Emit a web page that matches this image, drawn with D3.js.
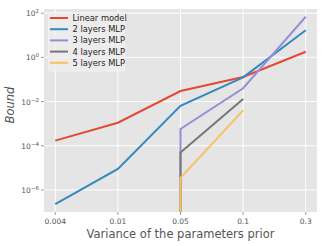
<!DOCTYPE html>
<html>
<head>
<meta charset="utf-8">
<script src="https://cdn.jsdelivr.net/npm/d3@7"></script>
<style>
  body { margin: 0; background: #fff; }
  text { font-family: "DejaVu Sans", sans-serif; }
</style>
</head>
<body>
<svg id="chart" width="326" height="246"></svg>
<script>
var categories = ["0.004", "0.01", "0.05", "0.1", "0.3"];
var seriesNames = ["Linear model", "2 layers MLP", "3 layers MLP", "4 layers MLP", "5 layers MLP"];
// 0 means no bound (drops off the log axis)
var linearModel = [1.7e-4, 1.1e-3, 3.0e-2, 0.13, 1.8];
var mlp2 = [2.3e-7, 9.0e-6, 6.4e-3, 0.125, 17];
var mlp3 = [0, 0, 5.7e-4, 4.0e-2, 69];
var mlp4 = [0, 0, 5.0e-5, 1.3e-2, null];
var mlp5 = [0, 0, 3.5e-6, 4.0e-3, null];
var yTicks = [1e-6, 1e-4, 1e-2, 1e0, 1e2];
var yTickExp = ["\u22126", "\u22124", "\u22122", "0", "2"];

var colors = ["#E24A33", "#348ABD", "#988ED5", "#777777", "#FBC15E"];
var allSeries = [linearModel, mlp2, mlp3, mlp4, mlp5];

var svg = d3.select("#chart");
var pLeft = 44, pRight = 317, pTop = 9, pBottom = 212;

var x = d3.scalePoint().domain(categories).range([pLeft, pRight]).padding(0.18);
var y = d3.scaleLog().domain([1.0e-7, Math.pow(10, 2.19)]).range([pBottom, pTop]);

svg.append("rect").attr("x", pLeft).attr("y", pTop)
   .attr("width", pRight - pLeft).attr("height", pBottom - pTop)
   .style("fill", "#E5E5E5");

svg.append("defs").append("clipPath").attr("id", "clip")
   .append("rect").attr("x", pLeft).attr("y", pTop)
   .attr("width", pRight - pLeft).attr("height", pBottom - pTop);

// grid
svg.selectAll(".gx").data(categories).enter().append("line")
   .attr("x1", d => x(d)).attr("x2", d => x(d)).attr("y1", pTop).attr("y2", pBottom)
   .style("stroke", "#fff").style("stroke-width", 1);
svg.selectAll(".gy").data(yTicks).enter().append("line")
   .attr("x1", pLeft).attr("x2", pRight).attr("y1", d => y(d)).attr("y2", d => y(d))
   .style("stroke", "#fff").style("stroke-width", 1);

// ticks
svg.selectAll(".tx").data(categories).enter().append("line")
   .attr("x1", d => x(d)).attr("x2", d => x(d)).attr("y1", pBottom).attr("y2", pBottom + 3)
   .style("stroke", "#555").style("stroke-width", 0.6);
svg.selectAll(".lx").data(categories).enter().append("text")
   .attr("x", d => x(d)).attr("y", pBottom + 12).text(d => d)
   .style("font-size", "7.5px").style("fill", "#555").attr("text-anchor", "middle");

svg.selectAll(".ty").data(yTicks).enter().append("line")
   .attr("x1", pLeft - 3).attr("x2", pLeft).attr("y1", d => y(d)).attr("y2", d => y(d))
   .style("stroke", "#555").style("stroke-width", 0.6);
var ly = svg.selectAll(".ly").data(yTicks).enter().append("text")
   .attr("x", pLeft - 5).attr("y", d => y(d) + 3)
   .style("font-size", "7.5px").style("fill", "#555").attr("text-anchor", "end");
ly.append("tspan").text("10");
ly.append("tspan").attr("dy", -3).style("font-size", "5.5px").text((d, i) => yTickExp[i]);

// lines
var g = svg.append("g").attr("clip-path", "url(#clip)");
allSeries.forEach(function(vals, i) {
  var pts = [];
  var started = false;
  vals.forEach(function(v, j) {
    if (v === null) return;
    if (v === 0) return;
    if (!started && j > 0 && vals[j - 1] === 0) pts.push([x(categories[j]), pBottom + 5]);
    started = true;
    pts.push([x(categories[j]), y(v)]);
  });
  g.append("path").attr("d", d3.line()(pts))
   .style("fill", "none").style("stroke", colors[i]).style("stroke-width", 2);
});

// legend
svg.append("rect").attr("x", 48.5).attr("y", 12.5).attr("width", 76).attr("height", 58.5)
   .attr("rx", 2).style("fill", "#eeeeee").style("fill-opacity", 0.8)
   .style("stroke", "#f2f2f2").style("stroke-width", 1);
seriesNames.forEach(function(name, i) {
  var ry = 18 + i * 11.2;
  svg.append("line").attr("x1", 50).attr("x2", 68).attr("y1", ry).attr("y2", ry)
     .style("stroke", colors[i]).style("stroke-width", 2);
  svg.append("text").attr("x", 72.5).attr("y", ry + 3).text(name)
     .style("font-size", "8.3px").style("fill", "#222");
});

// axis labels
svg.append("text").attr("x", (pLeft + pRight) / 2).attr("y", 238)
   .text("Variance of the parameters prior")
   .style("font-size", "11.5px").style("fill", "#555").attr("text-anchor", "middle");
svg.append("text").attr("transform", "translate(14," + 105 + ") rotate(-90)")
   .text("Bound").attr("text-anchor", "middle")
   .style("font-size", "11.5px").style("font-style", "italic").style("fill", "#555");
</script>
</body>
</html>
